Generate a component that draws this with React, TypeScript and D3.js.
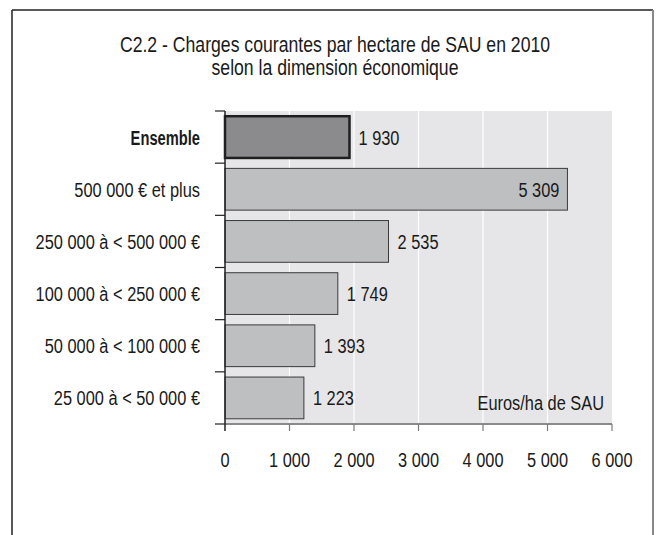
import { useEffect, useRef } from "react";
import * as d3 from "d3";

const categories = [
  "Ensemble",
  "500 000 € et plus",
  "250 000 à < 500 000 €",
  "100 000 à < 250 000 €",
  "50 000 à < 100 000 €",
  "25 000 à < 50 000 €",
];
const values = [1930, 5309, 2535, 1749, 1393, 1223];
const xTicks = [0, 1000, 2000, 3000, 4000, 5000, 6000];
const titleLines = [
  "C2.2 - Charges courantes par hectare de SAU en 2010",
  "selon la dimension économique",
];
const unitLabel = "Euros/ha de SAU";

const W = 657,
  H = 535;
const sans = "'Liberation Sans', Arial, sans-serif";
// no narrow face installed, so text is squeezed horizontally
const SQ = 0.78;
const SQ_BOLD = 0.7;

// "1 930" style thousands
const fmt = (v: number) => d3.format(",")(v).replace(/,/g, " ");
const at = (x: number, y: number, s = SQ) => `translate(${x},${y}) scale(${s},1)`;

function draw(el: SVGSVGElement) {
  const svg = d3.select(el);
  svg.selectAll("*").remove();

  const margin = { top: 111, right: 45, bottom: 111, left: 225 };
  const x = d3.scaleLinear().domain([0, 6000]).range([margin.left, W - margin.right]);
  const y = d3.scaleBand().domain(categories).range([margin.top, H - margin.bottom]);
  const step = y.step();

  // outer frame (no bottom edge)
  svg.append("line").attr("x1", 12).attr("x2", 653).attr("y1", 10).attr("y2", 10).attr("stroke", "#222").attr("stroke-width", 1.5);
  svg.append("line").attr("x1", 12).attr("x2", 12).attr("y1", 10).attr("y2", H).attr("stroke", "#222").attr("stroke-width", 1.5);
  svg.append("line").attr("x1", 653).attr("x2", 653).attr("y1", 10).attr("y2", H).attr("stroke", "#888").attr("stroke-width", 2);

  // title
  svg
    .append("g")
    .selectAll("text")
    .data(titleLines)
    .join("text")
    .attr("transform", (_, i) => at(335, 52 + i * 23, 0.82))
    .attr("text-anchor", "middle")
    .attr("font-family", sans)
    .attr("font-size", 21.5)
    .attr("fill", "#1a1a1a")
    .text((d) => d);

  // plot background + grid
  svg
    .append("rect")
    .attr("x", x(0))
    .attr("y", margin.top)
    .attr("width", x(6000) - x(0))
    .attr("height", H - margin.bottom - margin.top)
    .attr("fill", "#e6e6e8");
  svg
    .selectAll(".grid")
    .data(xTicks.slice(1, -1))
    .join("line")
    .attr("x1", (d) => x(d))
    .attr("x2", (d) => x(d))
    .attr("y1", margin.top)
    .attr("y2", H - margin.bottom)
    .attr("stroke", "#fff")
    .attr("stroke-width", 1.2);

  // bars
  svg
    .selectAll(".bar")
    .data(values)
    .join("rect")
    .attr("x", x(0))
    .attr("y", (_, i) => y(categories[i])! + step * 0.1)
    .attr("width", (d) => x(d) - x(0))
    .attr("height", step * 0.8)
    .attr("fill", (_, i) => (i === 0 ? "#8b8b8d" : "#bebfc1"))
    .attr("stroke", (_, i) => (i === 0 ? "#1e1e1e" : "#3a3a3a"))
    .attr("stroke-width", (_, i) => (i === 0 ? 2.5 : 1));

  // value labels
  svg
    .selectAll(".val")
    .data(values)
    .join("text")
    .attr("transform", (d, i) => at(d > 5000 ? x(d) - 8 : x(d) + 9, y(categories[i])! + step / 2))
    .attr("dy", "0.36em")
    .attr("text-anchor", (d) => (d > 5000 ? "end" : "start"))
    .attr("font-family", sans)
    .attr("font-size", 21)
    .attr("fill", "#1a1a1a")
    .text((d) => fmt(d));

  // category labels + band ticks
  svg
    .selectAll(".cat")
    .data(categories)
    .join("text")
    .attr("transform", (d, i) => at(200, y(d)! + step / 2, i === 0 ? SQ_BOLD : SQ))
    .attr("dy", "0.36em")
    .attr("text-anchor", "end")
    .attr("font-family", sans)
    .attr("font-size", 21)
    .attr("font-weight", (_, i) => (i === 0 ? "bold" : "normal"))
    .attr("fill", "#1a1a1a")
    .text((d) => d);
  svg
    .selectAll(".btick")
    .data(d3.range(categories.length + 1))
    .join("line")
    .attr("x1", x(0) - 10)
    .attr("x2", x(0))
    .attr("y1", (i) => margin.top + i * step)
    .attr("y2", (i) => margin.top + i * step)
    .attr("stroke", "#222")
    .attr("stroke-width", 1.2);

  // x axis
  const axisY = H - margin.bottom;
  svg.append("line").attr("x1", x(0)).attr("x2", x(6000)).attr("y1", axisY).attr("y2", axisY).attr("stroke", "#8a8a8a").attr("stroke-width", 2);
  svg
    .selectAll(".xtick")
    .data(xTicks.slice(1))
    .join("line")
    .attr("x1", (d) => x(d))
    .attr("x2", (d) => x(d))
    .attr("y1", axisY)
    .attr("y2", axisY + 7)
    .attr("stroke", "#7a7a7a")
    .attr("stroke-width", 1.2);
  svg
    .selectAll(".xlab")
    .data(xTicks)
    .join("text")
    .attr("transform", (d) => at(x(d), 459))
    .attr("dy", "0.36em")
    .attr("text-anchor", "middle")
    .attr("font-family", sans)
    .attr("font-size", 21)
    .attr("fill", "#1a1a1a")
    .text((d) => fmt(d));

  // left axis line
  svg.append("line").attr("x1", x(0)).attr("x2", x(0)).attr("y1", margin.top).attr("y2", axisY + 7).attr("stroke", "#222").attr("stroke-width", 1.5);

  svg
    .append("text")
    .attr("transform", at(604, 410))
    .attr("text-anchor", "end")
    .attr("font-family", sans)
    .attr("font-size", 21)
    .attr("fill", "#1a1a1a")
    .text(unitLabel);
}

export default function App() {
  const ref = useRef<SVGSVGElement>(null);
  useEffect(() => {
    if (ref.current) draw(ref.current);
  }, []);
  return (
    <svg
      ref={ref}
      width={W}
      height={H}
      style={{ position: "absolute", left: 0, top: 0, background: "#fff" }}
    />
  );
}
